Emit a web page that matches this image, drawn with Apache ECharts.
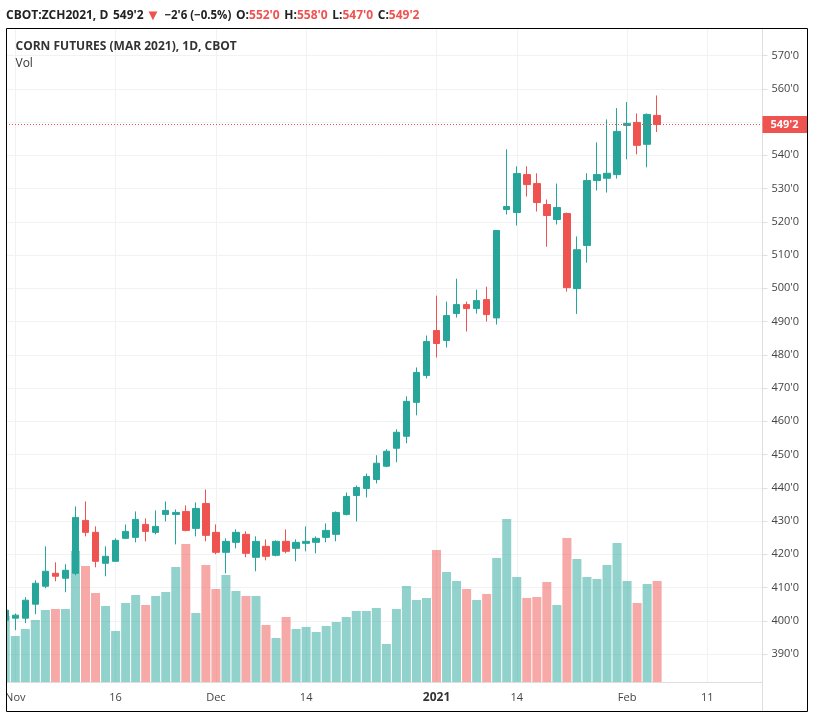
<!DOCTYPE html>
<html>
<head>
<meta charset="utf-8">
<title>Corn futures</title>
<script src="https://cdn.jsdelivr.net/npm/echarts@6/dist/echarts.min.js"></script>
<style>
html,body{margin:0;padding:0;background:#fff;}
#main{width:815px;height:718px;}
</style>
</head>
<body>
<div id="main"></div>
<script>
var dates = ['10-30',
	'11-02','11-03','11-04','11-05','11-06','11-09','11-10','11-11','11-12','11-13',
	'11-16','11-17','11-18','11-19','11-20','11-23','11-24','11-25','11-27','11-30',
	'12-01','12-02','12-03','12-04','12-07','12-08','12-09','12-10','12-11',
	'12-14','12-15','12-16','12-17','12-18','12-21','12-22','12-23','12-24','12-28','12-29','12-30','12-31',
	'01-04','01-05','01-06','01-07','01-08','01-11','01-12','01-13','01-14','01-15',
	'01-19','01-20','01-21','01-22','01-25','01-26','01-27','01-28','01-29',
	'02-01','02-02','02-03','02-04','02-05','02-08','02-09','02-10','02-11','02-12',
	'02-16','02-17','02-18','02-19'];
var opens = [400.2,400.8,400.8,405,410.4,414.3,412.8,414.3,430.2,426.6,
	417.3,417.9,424.8,425.1,429,426.6,432,432,432.9,427.8,
	435.3,426.6,420.6,423.6,426,419.1,422.4,419.7,423.9,421.8,
	423.3,423.6,425.1,426,432,437.7,439.8,442.5,446.5,451.9,
	455.5,465.7,473.8,487.3,484.3,492.4,495.1,493.9,496.6,491.1,
	523.7,522.8,534.2,531.5,525.2,520.7,522.5,499.9,512.9,532.4,
	533.1,534.2,549,549.9,543.3,552];
var closes = [403.2,401.7,406.2,411.3,414.9,413.4,415.2,431.1,426.6,417.9,
	419.4,424.2,426.9,430.5,426.9,428.4,433.2,432.6,427.2,433.8,
	425.7,420.6,423.9,426.6,420.3,423.9,419.4,423.9,420.9,423.6,
	423.9,424.8,427.2,432.6,437.4,440.1,443.4,447.4,451,456.7,
	466,474.7,484,483.4,491.8,495.1,493.9,496.3,492.1,517.4,
	524.6,534.5,531.2,525.8,521.9,524.3,500.2,511.6,532.4,534.2,
	534.6,547.2,549.6,543,552.3,549.25];
var lows = [400.2,397.2,399.3,402,409.8,411.9,408.6,413.7,425.4,416.1,
	413.4,417.9,424.8,423.6,423.9,426,429.9,423,426.9,425.4,
	423.9,420,414.3,421.8,419.1,414.9,418.2,419.4,420.3,417.9,
	420.9,420.3,423.6,423.9,431.7,429.9,437.1,441.3,446.2,447.7,
	453.4,461.8,472.9,479.2,482.2,491.2,487,492.4,490,489.1,
	522.2,518.9,527.6,523.1,512.5,519.2,499,492.3,507.7,529.4,
	528.8,533,538.8,540.3,536.4,547];
var highs = [403.2,402.2,407.1,412.2,422.4,417.6,417,434.4,435.9,428.4,
	422.4,424.8,429,432.9,430.8,433.2,435.9,433.5,434.7,435.6,
	439.5,429,424.8,427.5,426.9,425.4,424.5,424.2,427.5,424.5,
	428.4,425.4,429.3,432.9,438.6,440.7,444.3,449.8,451.6,457.6,
	467.5,476.2,485.8,497.8,496,502.9,496,499.6,500.5,517.4,
	541.8,536.7,536.7,534.6,526.7,531.5,522.8,515.6,534.6,543.9,
	550.8,554.2,556,552.6,552.6,558];
var volumes = [66,46,53,62,72,73,73,131,116,89,
	76,51,79,87,77,86,90,115,138,69,
	117,93,107,91,86,86,57,44,65,53,
	55,50,56,60,65,71,71,74,38,73,
	96,82,84,132,110,101,93,82,88,124,
	163,105,84,85,100,77,144,123,105,103,
	117,139,101,79,98,101];
var timeLabels = {'11-02':'Nov','11-16':'16','12-01':'Dec','12-14':'14','01-04':'2021','01-14':'14','02-01':'Feb','02-11':'11'};
var priceTicks = [390,400,410,420,430,440,450,460,470,480,490,500,510,520,530,540,550,560,570];
var lastPrice = 549.25;

var upColor = '#26a69a', downColor = '#ef5350';
var gridColor = '#f1f2f4', axisColor = '#dedede';
var font = '"Open Sans", "Noto Sans", sans-serif';

var candleData = [];
for (var i = 0; i < opens.length; i++) {
	candleData.push([opens[i], closes[i], lows[i], highs[i]]);
}

function isTimeTick(index, name) {
	return timeLabels[name] !== undefined;
}

var header = '{b|CBOT:ZCH2021, D} {n|549\'2}{h|}{t|▼}{g|}{m|−2\'6 (−0.5%)} {b|O:}{r|552\'0} {b|H:}{r|558\'0} {b|L:}{r|547\'0} {b|C:}{r|549\'2}';

var option = {
	animation: false,
	backgroundColor: '#fff',
	textStyle: {fontFamily: font},
	title: [{
		text: header,
		left: 6, top: 7, padding: 0,
		textStyle: {
			rich: {
				b: {fontFamily: font, fontSize: 12, fontWeight: 'bold', color: '#222'},
				n: {fontFamily: font, fontSize: 12, color: '#222'},
				m: {fontFamily: font, fontSize: 11.5, color: '#222'},
				r: {fontFamily: font, fontSize: 12, color: downColor},
				t: {fontFamily: font, fontSize: 15, color: downColor},
				g: {width: 4},
				h: {width: 2}
			}
		}
	}, {
		text: 'CORN FUTURES (MAR 2021), 1D, CBOT',
		left: 15.5, top: 41, padding: 0,
		textStyle: {fontFamily: font, fontSize: 12, fontWeight: 'bold', color: '#333'}
	}, {
		text: 'Vol',
		left: 15.5, top: 58, padding: 0,
		textStyle: {fontFamily: font, fontSize: 12, fontWeight: 'normal', color: '#333'}
	}],
	grid: [
		{left: 0.26, top: 28.3, width: 762.2, height: 653.7},
		{left: 0.26, top: 482, width: 762.2, height: 200}
	],
	xAxis: [{
		type: 'category', gridIndex: 0, data: dates,
		axisLine: {show: false},
		axisTick: {show: false},
		axisLabel: {show: false},
		splitLine: {show: true, alignWithLabel: true, interval: isTimeTick, lineStyle: {color: gridColor, width: 1}}
	}, {
		type: 'category', gridIndex: 1, data: dates,
		axisLine: {lineStyle: {color: axisColor}},
		axisTick: {alignWithLabel: true, interval: isTimeTick, length: 5, lineStyle: {color: axisColor}},
		splitLine: {show: false},
		axisLabel: {
			interval: isTimeTick, margin: 10, fontSize: 11, fontFamily: font, color: '#444',
			formatter: function(name) {
				var t = timeLabels[name];
				if (t === '2021') return '{y|' + t + '}';
				return t;
			},
			rich: {y: {fontFamily: font, fontSize: 12, fontWeight: 'bold', color: '#333'}}
		}
	}],
	yAxis: [{
		type: 'value', gridIndex: 0, position: 'right',
		min: 381.6, max: 578.2,
		axisLine: {show: true, lineStyle: {color: axisColor}},
		axisTick: {show: true, customValues: priceTicks, length: 5, lineStyle: {color: axisColor}},
		splitLine: {show: true, lineStyle: {color: gridColor}},
		axisLabel: {
			customValues: priceTicks, margin: 9, fontSize: 11, fontFamily: font, color: '#444',
			formatter: function(v) { return v + "'0"; }
		}
	}, {
		type: 'value', gridIndex: 1, min: 0, max: 200,
		axisLine: {show: false}, axisTick: {show: false}, axisLabel: {show: false}, splitLine: {show: false}
	}],
	series: [{
		name: 'Vol', type: 'bar', xAxisIndex: 1, yAxisIndex: 1, z: 1,
		data: volumes, barWidth: 9,
		itemStyle: {
			color: function(p) {
				return closes[p.dataIndex] >= opens[p.dataIndex] ? 'rgba(38,166,154,0.5)' : 'rgba(239,83,80,0.5)';
			}
		}
	}, {
		name: 'ZCH2021', type: 'candlestick', xAxisIndex: 0, yAxisIndex: 0, z: 3,
		data: candleData, barWidth: 7,
		itemStyle: {color: upColor, color0: downColor, borderColor: upColor, borderColor0: downColor, borderWidth: 1},
		markLine: {
			symbol: 'none', silent: true,
			data: [{yAxis: lastPrice}],
			lineStyle: {color: downColor, type: [1, 2], dashOffset: 0.26, width: 1},
			label: {
				show: true, position: 'end', distance: 0,
				formatter: "549'2", color: '#fff', fontFamily: font, fontSize: 11, fontWeight: 'bold',
				backgroundColor: downColor, padding: [3, 9, 3, 8]
			}
		}
	}],
	graphic: [
		{type: 'rect', z: 50, shape: {x: 0, y: 28, width: 6.5, height: 655}, style: {fill: '#fff'}},
		{type: 'line', z: 50, shape: {x1: 762.5, y1: 682, x2: 762.5, y2: 711}, style: {stroke: axisColor, lineWidth: 1}},
		{type: 'rect', z: 51, shape: {x: 6.5, y: 28.5, width: 801, height: 683}, style: {fill: 'none', stroke: '#000', lineWidth: 1}}
	]
};

echarts.init(document.getElementById('main')).setOption(option);
</script>
</body>
</html>
